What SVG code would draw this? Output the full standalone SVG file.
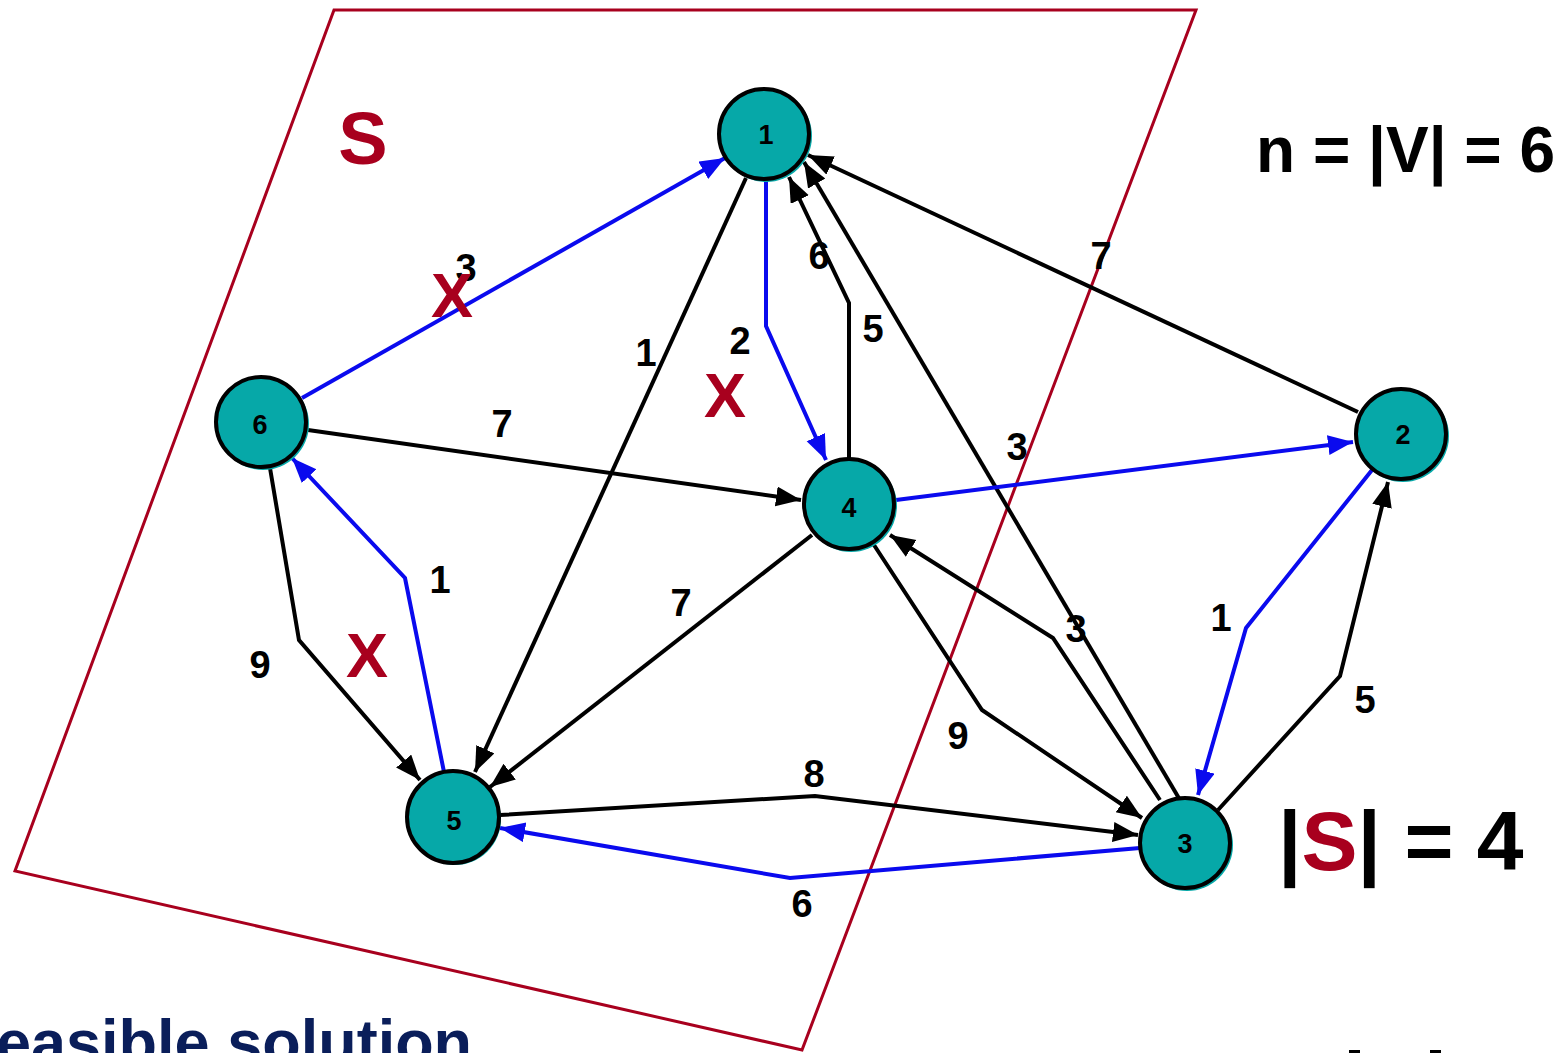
<svg xmlns="http://www.w3.org/2000/svg" width="1561" height="1053" viewBox="0 0 1561 1053">
<defs>
<style>
text{font-family:"Liberation Sans",Arial,sans-serif;font-weight:bold}
.e{fill:none;stroke:#000;stroke-width:4;marker-end:url(#ab)}
.b{fill:none;stroke:#0a0aee;stroke-width:4;marker-end:url(#au)}
.lbl{font-size:38px;fill:#000;text-anchor:middle}
.x{font-size:63px;fill:#a8001e;text-anchor:middle}
.sh{fill:#06a8a8}
.nd{fill:#06a8a8;stroke:#000;stroke-width:4}
.nt{font-size:27px;fill:#000;text-anchor:middle}
</style>
<marker id="ab" markerUnits="userSpaceOnUse" markerWidth="28" markerHeight="22" refX="25" refY="10" orient="auto"><path d="M0,0 L25,10 L0,20 z" fill="#000"/></marker>
<marker id="au" markerUnits="userSpaceOnUse" markerWidth="28" markerHeight="22" refX="25" refY="10" orient="auto"><path d="M0,0 L25,10 L0,20 z" fill="#0a0aee"/></marker>
</defs>
<rect width="1561" height="1053" fill="#fff"/>
<polygon points="334,10 1196,10 802,1050 15,871" fill="none" stroke="#a8001e" stroke-width="3"/>
<g id="connectors">
<polyline class="b" points="302,398 725,158"/>
<polyline class="e" points="746,178 475,772"/>
<polyline class="b" points="766,180 766,326 826,460"/>
<polyline class="e" points="849,458 849,303 789,177"/>
<polyline class="e" points="1180,800 804,162"/>
<polyline class="e" points="1358,412 808,155"/>
<polyline class="e" points="1160,800 1053,638 890,535"/>
<polyline class="e" points="308,430 801,500"/>
<polyline class="b" points="896,500 1353,442"/>
<polyline class="e" points="812,535 490,787"/>
<polyline class="e" points="874,545 982,710 1142,818"/>
<polyline class="b" points="1372,470 1246,628 1198,795"/>
<polyline class="e" points="1218,810 1340,676 1388,482"/>
<polyline class="e" points="500,815 815,796 1138,835"/>
<polyline class="b" points="1140,848 790,878 500,828"/>
<polyline class="b" points="444,772 405,578 292,458"/>
<polyline class="e" points="270,468 299,640 420,780"/>
</g>
<g id="edge-labels">
<text class="lbl" x="466" y="281">3</text>
<text class="lbl" x="646" y="366">1</text>
<text class="lbl" x="740" y="354">2</text>
<text class="lbl" x="819" y="269">6</text>
<text class="lbl" x="873" y="342">5</text>
<text class="lbl" x="1101" y="269">7</text>
<text class="lbl" x="1017" y="460">3</text>
<text class="lbl" x="1076" y="642">3</text>
<text class="lbl" x="502" y="437">7</text>
<text class="lbl" x="681" y="616">7</text>
<text class="lbl" x="958" y="749">9</text>
<text class="lbl" x="1221" y="631">1</text>
<text class="lbl" x="1365" y="713">5</text>
<text class="lbl" x="814" y="787">8</text>
<text class="lbl" x="802" y="917">6</text>
<text class="lbl" x="440" y="593">1</text>
<text class="lbl" x="260" y="678">9</text>
</g>
<g id="marks">
<text class="x" x="452" y="317">X</text>
<text class="x" x="725" y="417">X</text>
<text class="x" x="367" y="677">X</text>
</g>
<g id="node1"><circle class="sh" cx="766" cy="136" r="46"/><circle class="nd" cx="764" cy="134" r="45"/><text class="nt" x="766" y="144">1</text></g>
<g id="node2"><circle class="sh" cx="1403" cy="436" r="46"/><circle class="nd" cx="1401" cy="434" r="45"/><text class="nt" x="1403" y="444">2</text></g>
<g id="node3"><circle class="sh" cx="1187" cy="845" r="46"/><circle class="nd" cx="1185" cy="843" r="45"/><text class="nt" x="1185" y="853">3</text></g>
<g id="node4"><circle class="sh" cx="851" cy="506" r="46"/><circle class="nd" cx="849" cy="504" r="45"/><text class="nt" x="849" y="517">4</text></g>
<g id="node5"><circle class="sh" cx="455" cy="819" r="46"/><circle class="nd" cx="453" cy="817" r="46"/><text class="nt" x="454" y="830">5</text></g>
<g id="node6"><circle class="sh" cx="263" cy="424" r="46"/><circle class="nd" cx="261" cy="422" r="45"/><text class="nt" x="260" y="434">6</text></g>
<g id="titles">
<text x="363" y="164" font-size="74" fill="#a8001e" text-anchor="middle">S</text>
<text x="1256" y="172" font-size="64" fill="#000">n = |V| = 6</text>
<text x="1278" y="870" font-size="84" fill="#000">|<tspan fill="#a8001e">S</tspan>| = 4</text>
<text x="-4" y="1064" font-size="63" fill="#0a1e5a">easible solution</text>
</g>
<rect x="1349" y="1050" width="11" height="3" fill="#000"/>
<rect x="1430" y="1050" width="11" height="3" fill="#000"/>
</svg>
